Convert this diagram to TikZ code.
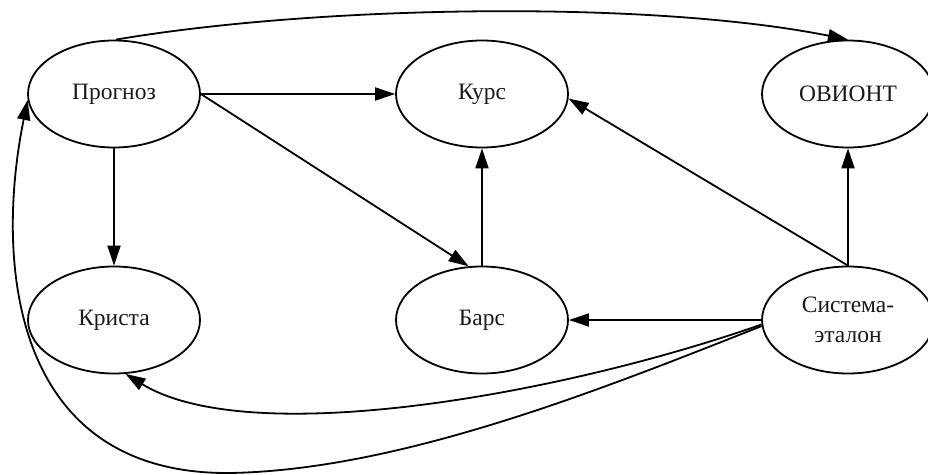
\documentclass[tikz,border=0pt]{standalone}
\usepackage{fontspec}
\setmainfont{Liberation Serif}
\usetikzlibrary{shapes.geometric,arrows.meta}
\begin{document}
\begin{tikzpicture}[x=1pt,y=-1pt,
  vertex/.style={ellipse,draw,line width=1.8pt,minimum width=172pt,minimum height=107pt,inner sep=0pt,
    align=center,font=\fontsize{23.5}{30}\selectfont,text=black!90},
  edge/.style={line width=1.8pt,-{Triangle[length=20pt,width=13pt]}}]
\useasboundingbox (0,0) rectangle (928,474);
\node[vertex] (P) at (114,94) {Прогноз};
\node[vertex] (K) at (482,94) {Курс};
\node[vertex] (O) at (848,94) {ОВИОНТ};
\node[vertex] (Kr) at (114,320) {Криста};
\node[vertex] (B) at (482,320) {Барс};
\node[vertex] (S) at (848,320) {Система-\\эталон};
\draw[edge] (P.east) -- (K.west);
\draw[edge] (P.east) -- (B.104);
\draw[edge] (P.south) -- (Kr.north);
\draw[edge] (B.north) -- (K.south);
\draw[edge] (S.north) -- (K.-3);
\draw[edge] (S.north) -- (O.south);
\draw[edge] (S.west) -- (B.east);
\draw[edge] (S.183) .. controls (560,395) and (250,450) .. (Kr.-78);
\draw[edge] (S.184) .. controls (600,390) and (400,470) .. (230,473)
  .. controls (10,475) and (-5,260) .. (P.184);
\draw[edge] (P.88) .. controls (320,5) and (650,0) .. (O.north);
\end{tikzpicture}
\end{document}
